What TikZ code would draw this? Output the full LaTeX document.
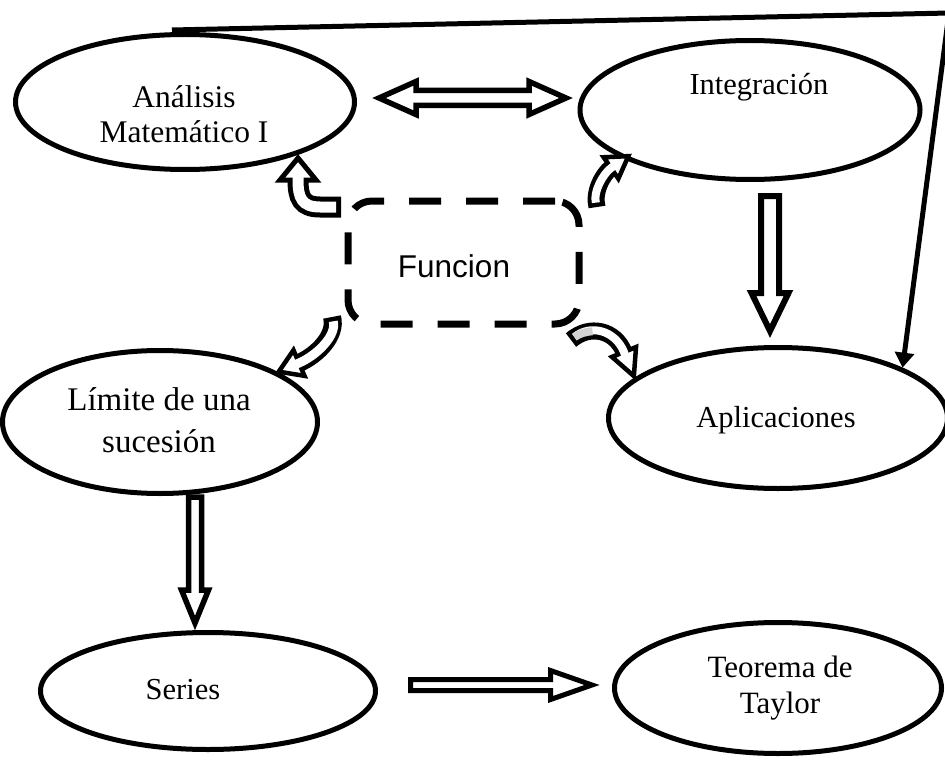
\documentclass[tikz,border=0pt]{standalone}
\usepackage{fontspec}
\setmainfont{Liberation Serif}
\newfontfamily\funcfont{Liberation Sans}
\usetikzlibrary{arrows.meta,calc,shapes.geometric}
\newcommand{\ahead}[4]{%
  \begin{scope}[shift={#1}, rotate=#2]
    \draw[fill=white, line join=miter] (0,-#4) -- (#3,0) -- (0,#4) -- cycle;
  \end{scope}}
\tikzset{
  ell/.style={draw, ellipse, line width=5pt, inner sep=0pt},
  lbl/.style={align=center, font=\fontsize{30.5}{36}\selectfont, inner sep=0pt},
  blk/.style={draw, fill=white, line join=miter},
}
\begin{document}
\begin{tikzpicture}[x=1pt, y=-1pt]
\useasboundingbox (0,0) rectangle (945,765);

% ellipses
\node[ell, minimum width=339pt, minimum height=135pt] (am) at (185,102) {};
\node[ell, minimum width=340pt, minimum height=139pt] (in) at (750,110) {};
\node[ell, minimum width=339pt, minimum height=141pt] (ap) at (778,418) {};
\node[ell, minimum width=315pt, minimum height=143pt] (li) at (160,422) {};
\node[ell, minimum width=335pt, minimum height=117pt] (se) at (208,691) {};
\node[ell, minimum width=327pt, minimum height=131pt] (ta) at (778,688) {};

% central dashed box
\node[draw, line width=7pt, dash pattern=on 32pt off 25pt, rounded corners=24pt,
      minimum width=231pt, minimum height=123pt, inner sep=0pt] (fn) at (463.5,262.5) {};

% texts
\node[lbl, font=\fontsize{31.5}{35}\selectfont] (amt) at (184,114) {Análisis\\Matemático I};
\node[lbl] (intt) at (759,87) {Integración};
\node[lbl] (apt) at (776,420) {Aplicaciones};
\node[lbl, font=\fontsize{33}{42}\selectfont] (lit) at (159,420) {Límite de una\\sucesión};
\node[lbl] (set) at (183,690) {Series};
\node[lbl, font=\fontsize{31}{36}\selectfont] (tat) at (780,688) {Teorema de\\Taylor};
\node[inner sep=0pt, font=\funcfont\fontsize{31.5}{36}\selectfont] (fnt) at (454,266) {Funcion};

% block arrows
\coordinate (da) at ($(am.east)+(22,-4)$);
\draw[blk, line width=5.5pt] (da) -- ++(37,-16.5) -- ++(0,9) -- ++(113,0) -- ++(0,-9) -- ++(37,16.5)
  -- ++(-37,16.5) -- ++(0,-9) -- ++(-113,0) -- ++(0,9) -- cycle;

\coordinate (vb) at ($(in.south)+(20,14)$);
\draw[blk, line width=6pt] (vb) ++(-9,0) -- ++(18,0) -- ++(0,97) -- ++(9.5,0) -- ++(-18.5,38)
  -- ++(-18.5,-38) -- ++(9.5,0) -- cycle;

\coordinate (vc) at ($(li.south)+(35,1)$);
\draw[blk, line width=5.5pt] (vc) ++(-6.5,0) -- ++(13,0) -- ++(0,93) -- ++(7,0) -- ++(-13.5,33)
  -- ++(-13.5,-33) -- ++(7,0) -- cycle;

\coordinate (vd) at ($(se.east)+(32.5,-6)$);
\draw[blk, line width=5pt] (vd) ++(0,-5.5) -- ++(140,0) -- ++(0,-9) -- ++(41.5,14.5)
  -- ++(-41.5,14.5) -- ++(0,-9) -- ++(-140,0) -- cycle;

% curved arrows around Funcion
\begin{scope}[line width=5pt]
  \draw[line width=21pt] (341,207) -- (320,207) .. controls (302,207) and (298,198) .. (298,180);
  \ahead{(298,180)}{90}{22}{18}
  \draw[white, line width=11pt, shorten <=5pt] (341,207) -- (320,207) .. controls (302,207) and (298,198) .. (298,180) -- (298,175);
\end{scope}
\begin{scope}[line width=4.5pt]
  \draw[line width=17pt] (597,207) .. controls (593,192) and (603,174) .. (611,168);
  \ahead{(611,168)}{34.4}{21}{13}
  \draw[white, line width=8pt, shorten <=4.5pt] (597,207) .. controls (593,192) and (603,174) .. (611,168) -- (614.3,165.7);
\end{scope}
\begin{scope}[line width=4.5pt]
  \draw[line width=18pt] (332,317) .. controls (337,335) and (317.4,355.1) .. (299,363);
  \ahead{(299,363)}{203.2}{22}{14}
  \draw[white, line width=9pt, shorten <=4.5pt] (332,317) .. controls (337,335) and (317.4,355.1) .. (299,363) -- (295.3,364.6);
\end{scope}
\begin{scope}[line width=4.5pt]
  \draw[line width=17pt] (571,340) .. controls (590,324) and (615,330) .. (624,352);
  \ahead{(624,352)}{-67.7}{26}{13}
  \draw[white, line width=8pt, shorten <=4.5pt] (571,340) .. controls (590,324) and (615,330) .. (624,352) -- (625.1,355.7);
  \draw[gray!35, line width=8pt, shorten <=4.5pt] (571,340) .. controls (577.7,334.4) and (585.2,331.6) .. (592.5,331.2);
\end{scope}

% long thin connector
\coordinate (k) at (949,13);
\draw[line width=5pt, line join=miter, -{Triangle[length=15pt,width=19pt]}]
  ([xshift=-13pt,yshift=2pt]am.north) -- (k) -- (ap.22);
\end{tikzpicture}
\end{document}
